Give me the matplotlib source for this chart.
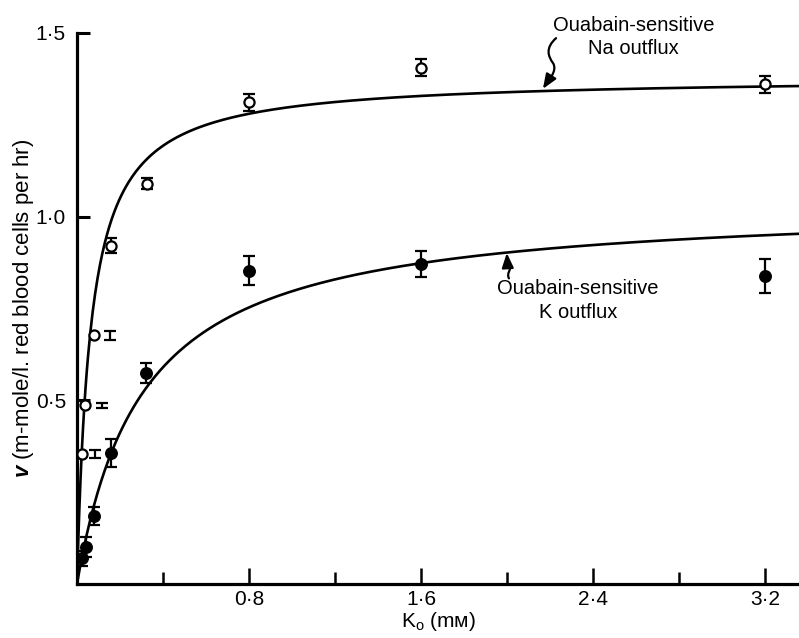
import numpy as np
import matplotlib
matplotlib.use('Agg')
import matplotlib.pyplot as plt
from matplotlib.path import Path
from matplotlib.patches import FancyArrowPatch

plt.rcParams['font.family'] = ['Liberation Sans', 'DejaVu Sans']
plt.rcParams['mathtext.fontset'] = 'custom'
plt.rcParams['mathtext.rm'] = 'Liberation Sans'
plt.rcParams['mathtext.it'] = 'Liberation Sans:italic:bold'

# ouabain-sensitive Na outflux (open circles)
na_x = [0.025, 0.037, 0.08, 0.158, 0.326, 0.8, 1.6, 3.2]
na_y = [0.353, 0.486, 0.677, 0.921, 1.09, 1.311, 1.406, 1.36]
na_err = [0.011, 0.008, 0.012, 0.02, 0.016, 0.024, 0.024, 0.022]
na_bar_x = [0.084, 0.115, 0.153, 0.158, 0.326, 0.8, 1.6, 3.2]

# ouabain-sensitive K outflux (filled circles)
k_x = [0.025, 0.042, 0.079, 0.158, 0.321, 0.8, 1.6, 3.2]
k_y = [0.07, 0.101, 0.185, 0.357, 0.574, 0.853, 0.872, 0.838]
k_err = [0.02, 0.027, 0.025, 0.039, 0.027, 0.04, 0.035, 0.047]

# fitted curves  v = Vmax*K/(Km+K)
na_vmax, na_km = 1.381, 0.063
k_vmax, k_km = 1.04, 0.305

xticks = [0.8, 1.6, 2.4, 3.2]
xtick_labels = ['0·8', '1·6', '2·4', '3·2']
minor_xticks = [0.4, 1.2, 2.0, 2.8]
yticks = [0.5, 1.0, 1.5]
ytick_labels = ['0·5', '1·0', '1·5']

fig = plt.figure(figsize=(7.99, 6.38), dpi=100)
ax = fig.add_axes([77/799, 1 - 584/638, 722/799, 551/638])

xx = np.linspace(0, 3.36, 600)
ax.plot(xx, na_vmax*xx/(na_km + xx), color='k', lw=1.9, zorder=2)
ax.plot(xx, k_vmax*xx/(k_km + xx), color='k', lw=1.9, zorder=2)

ax.errorbar(na_bar_x, na_y, yerr=na_err, fmt='none', ecolor='k',
            elinewidth=1.6, capsize=4.2, capthick=1.6, zorder=3, clip_on=False)
ax.errorbar(k_x, k_y, yerr=k_err, fmt='none', ecolor='k',
            elinewidth=1.6, capsize=4.2, capthick=1.6, zorder=3, clip_on=False)
ax.plot(na_x, na_y, 'o', ms=7.3, mfc='white', mec='k', mew=1.6, zorder=4, clip_on=False)
ax.plot(k_x, k_y, 'o', ms=8.3, mfc='k', mec='k', zorder=4, clip_on=False)

ax.set_xlim(0, 3.358)
ax.set_ylim(0, 1.5)
for s in ['top', 'right']:
    ax.spines[s].set_visible(False)
for s in ['left', 'bottom']:
    ax.spines[s].set_linewidth(2.3)

ax.set_xticks(xticks)
ax.set_xticklabels(xtick_labels, fontsize=15)
ax.set_xticks(minor_xticks, minor=True)
ax.set_yticks(yticks)
ax.set_yticklabels(ytick_labels, fontsize=15)
ax.tick_params(axis='x', which='major', direction='in', length=11.5, width=1.8, pad=4)
ax.tick_params(axis='x', which='minor', direction='in', length=9, width=1.8)
ax.tick_params(axis='y', direction='in', length=9.5, width=2.2, pad=8)

ax.set_xlabel(r'K$_\mathrm{o}$ (mᴍ)', fontsize=15, labelpad=1)
ax.set_ylabel(r'$\mathit{v}$ (m-mole/l. red blood cells per hr)', fontsize=16, labelpad=0)

ax.text(2.59, 1.489, 'Ouabain-sensitive\nNa outflux', ha='center', va='center',
        fontsize=14.5, linespacing=1.3, clip_on=False)
ax.text(2.33, 0.772, 'Ouabain-sensitive\nK outflux', ha='center', va='center',
        fontsize=14.5, linespacing=1.3)

# squiggly arrows
na_path = Path([(2.228, 1.486), (2.177, 1.459), (2.191, 1.437), (2.214, 1.418),
                (2.237, 1.397), (2.191, 1.370), (2.167, 1.348)],
               [Path.MOVETO] + [Path.CURVE4]*6)
k_path = Path([(2.009, 0.832), (1.995, 0.848), (2.025, 0.855), (2.010, 0.870),
               (2.0, 0.881), (2.0, 0.892), (1.999, 0.901)],
              [Path.MOVETO] + [Path.CURVE4]*6)
for p in [na_path, k_path]:
    arr = FancyArrowPatch(path=p, arrowstyle='-|>,head_length=0.55,head_width=0.22',
                          mutation_scale=16, color='k', lw=1.6,
                          transform=ax.transData, clip_on=False)
    ax.add_patch(arr)

fig.savefig('out.png', dpi=100)
